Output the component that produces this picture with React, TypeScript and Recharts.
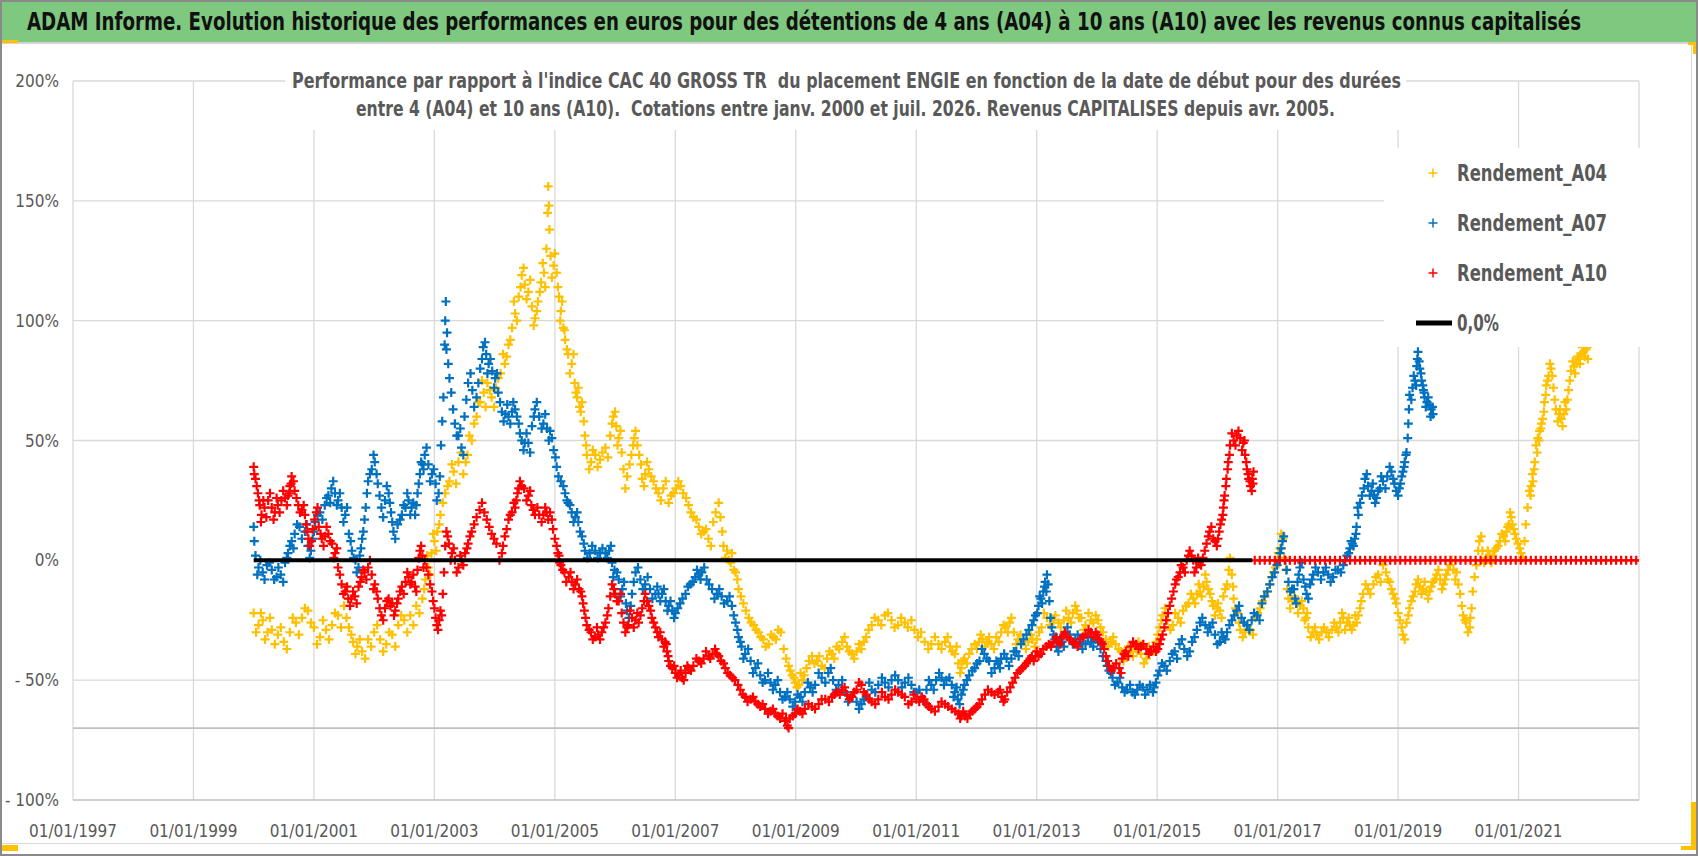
import React from 'react';
import { ScatterChart, Scatter, XAxis, YAxis, CartesianGrid, ReferenceLine, Legend } from 'recharts';

const FONT = '"Liberation Sans Narrow", "DejaVu Sans Condensed", "Open Sans", sans-serif';
const GREY_TEXT = '#595959';

const TITLE = 'ADAM Informe. Evolution historique des performances en euros pour des détentions de 4 ans (A04) à 10 ans (A10) avec les revenus connus capitalisés';
const SUBTITLE_1 = "Performance par rapport à l'indice CAC 40 GROSS TR  du placement ENGIE en fonction de la date de début pour des durées";
const SUBTITLE_2 = 'entre 4 (A04) et 10 ans (A10).  Cotations entre janv. 2000 et juil. 2026. Revenus CAPITALISES depuis avr. 2005.';
const TITLE_SCALE = 0.77;

const X_TICKS = [1997, 1999, 2001, 2003, 2005, 2007, 2009, 2011, 2013, 2015, 2017, 2019, 2021];
const Y_TICKS = [-100, -50, 0, 50, 100, 150, 200];
const Y_GRID = [200, 150, 100, 50, -50];
const Y_MIN_LINE = -70;

// [date en années, performance en %] - tracé principal de chaque nuage
const A04: [number, number][] = [
  [2000.0,-22],[2000.08,-27],[2000.15,-25],[2000.23,-30],[2000.3,-29],[2000.4,-31],[2000.5,-34],[2000.6,-30],[2000.7,-26],[2000.8,-24],
  [2000.9,-21],[2001.0,-28],[2001.1,-32],[2001.2,-29],[2001.3,-27],[2001.4,-23],[2001.5,-19],[2001.58,-28],[2001.65,-34],[2001.72,-36],
  [2001.8,-38],[2001.9,-33],[2002.0,-30],[2002.1,-33],[2002.2,-35],[2002.3,-31],[2002.4,-27],[2002.5,-25],[2002.6,-23],[2002.7,-19],
  [2002.8,-16],[2002.85,-8],[2002.9,-3],[2002.95,3],[2003.0,8],[2003.05,12],[2003.1,19],[2003.18,28],[2003.25,33],[2003.32,37],
  [2003.4,41],[2003.48,36],[2003.55,44],[2003.62,50],[2003.7,60],[2003.76,66],[2003.82,70],[2003.88,74],[2003.95,68],[2004.02,72],
  [2004.1,78],[2004.17,82],[2004.23,90],[2004.29,97],[2004.34,103],[2004.4,110],[2004.45,119],[2004.5,115],[2004.56,112],[2004.62,106],
  [2004.67,101],[2004.72,108],[2004.77,116],[2004.82,120],[2004.86,130],[2004.88,145],[2004.89,156],[2004.91,138],[2004.93,127],[2004.98,123],
  [2005.03,120],[2005.07,110],[2005.1,104],[2005.14,97],[2005.17,92],[2005.22,86],[2005.28,82],[2005.33,74],[2005.37,68],[2005.41,64],
  [2005.45,66],[2005.5,52],[2005.53,44],[2005.6,41],[2005.67,44],[2005.75,42],[2005.84,47],[2005.92,52],[2005.97,60],[2006.02,56],
  [2006.06,51],[2006.11,45],[2006.17,30],[2006.24,40],[2006.3,48],[2006.34,54],[2006.4,44],[2006.45,34],[2006.5,36],[2006.56,38],
  [2006.64,33],[2006.72,28],[2006.8,30],[2006.89,24],[2006.97,28],[2007.05,33],[2007.13,28],[2007.22,23],[2007.3,18],[2007.39,14],
  [2007.47,12],[2007.55,9],[2007.63,16],[2007.72,24],[2007.78,12],[2007.83,1],[2007.89,0],[2007.94,3],[2008.0,-5],[2008.05,-12],
  [2008.13,-18],[2008.22,-24],[2008.3,-27],[2008.38,-30],[2008.46,-33],[2008.55,-35],[2008.63,-32],[2008.71,-29],[2008.8,-37],[2008.88,-44],
  [2008.94,-48],[2008.99,-51],[2009.05,-52],[2009.1,-50],[2009.18,-45],[2009.27,-40],[2009.35,-42],[2009.43,-44],[2009.52,-41],[2009.6,-39],
  [2009.68,-36],[2009.77,-34],[2009.85,-36],[2009.93,-39],[2010.01,-38],[2010.09,-37],[2010.17,-32],[2010.26,-27],[2010.37,-25],[2010.48,-23],
  [2010.59,-25],[2010.7,-27],[2010.81,-26],[2010.92,-25],[2011.03,-32],[2011.14,-34],[2011.25,-35],[2011.37,-35],[2011.48,-34],[2011.56,-36],
  [2011.64,-39],[2011.7,-43],[2011.75,-45],[2011.8,-41],[2011.88,-39],[2011.97,-35],[2012.04,-34],[2012.1,-33],[2012.18,-34],[2012.25,-35],
  [2012.33,-32],[2012.41,-30],[2012.48,-28],[2012.55,-26],[2012.62,-30],[2012.69,-33],[2012.78,-34],[2012.86,-34],[2012.93,-33],[2013.0,-33],
  [2013.08,-28],[2013.17,-24],[2013.27,-25],[2013.36,-26],[2013.45,-25],[2013.53,-24],[2013.6,-22],[2013.67,-21],[2013.74,-24],[2013.81,-27],
  [2013.9,-25],[2013.98,-23],[2014.06,-28],[2014.15,-33],[2014.23,-34],[2014.31,-35],[2014.4,-38],[2014.48,-40],[2014.56,-38],[2014.65,-37],
  [2014.73,-39],[2014.82,-41],[2014.9,-38],[2014.98,-34],[2015.04,-28],[2015.09,-23],[2015.17,-25],[2015.26,-27],[2015.35,-24],[2015.43,-21],
  [2015.52,-18],[2015.6,-16],[2015.66,-14],[2015.71,-13],[2015.77,-11],[2015.82,-9],[2015.88,-14],[2015.93,-19],[2015.99,-20],[2016.04,-21],
  [2016.1,-15],[2016.16,-10],[2016.21,1],[2016.24,-6],[2016.27,-16],[2016.33,-22],[2016.38,-29],[2016.46,-30],[2016.55,-29],[2016.63,-24],
  [2016.71,-20],[2016.79,-15],[2016.87,-10],[2016.93,-5],[2016.98,0],[2017.04,5],[2017.09,9],[2017.14,-4],[2017.18,-16],[2017.25,-17],
  [2017.31,-18],[2017.37,-19],[2017.43,-20],[2017.47,-24],[2017.51,-28],[2017.58,-30],[2017.65,-31],[2017.73,-30],[2017.81,-30],[2017.9,-29],
  [2017.98,-28],[2018.04,-26],[2018.09,-24],[2018.15,-26],[2018.2,-27],[2018.26,-27],[2018.31,-26],[2018.37,-20],[2018.42,-14],[2018.5,-12],
  [2018.59,-10],[2018.67,-6],[2018.75,-2],[2018.8,-5],[2018.86,-9],[2018.92,-14],[2018.97,-18],[2019.03,-25],[2019.08,-31],[2019.14,-26],
  [2019.19,-20],[2019.25,-15],[2019.3,-10],[2019.36,-11],[2019.41,-12],[2019.47,-13],[2019.52,-13],[2019.58,-9],[2019.64,-6],[2019.7,-8],
  [2019.75,-10],[2019.8,-6],[2019.86,-2],[2019.92,-4],[2019.97,-5],[2020.03,-14],[2020.08,-23],[2020.13,-26],[2020.19,-28],[2020.22,-20],
  [2020.24,-13],[2020.3,-2],[2020.35,8],[2020.4,4],[2020.46,1],[2020.52,2],[2020.57,2],[2020.63,5],[2020.69,8],[2020.75,10],
  [2020.8,12],[2020.84,15],[2020.88,18],[2020.92,13],[2020.96,9],[2021.02,5],[2021.07,1],[2021.12,15],[2021.18,29],[2021.21,31],
  [2021.24,33],[2021.27,41],[2021.29,48],[2021.32,51],[2021.35,54],[2021.38,57],[2021.4,59],[2021.43,66],[2021.46,73],[2021.5,77],
  [2021.54,80],[2021.58,72],[2021.62,63],[2021.67,61],[2021.71,59],[2021.75,61],[2021.79,63],[2021.83,71],[2021.87,79],[2021.92,81],
  [2021.96,82],[2022.0,84],[2022.04,86],[2022.08,87],[2022.12,88],[2022.15,84],
];

// bord opposé du nuage A04 (dispersion des cotations journalières)
const A04_B: [number, number][] = [
  [2000.04,-30],[2000.12,-22],[2000.19,-33],[2000.27,-24],[2000.35,-35],[2000.45,-28],[2000.55,-37],[2000.65,-24],[2000.75,-31],[2000.85,-20],
  [2000.95,-26],[2001.05,-35],[2001.15,-25],[2001.25,-33],[2001.35,-22],[2001.45,-28],[2001.54,-24],[2001.62,-31],[2001.69,-39],[2001.76,-33],
  [2001.85,-41],[2001.95,-36],[2002.05,-27],[2002.15,-38],[2002.25,-30],[2002.35,-36],[2002.45,-23],[2002.55,-30],[2002.65,-27],[2002.75,-22],
  [2002.83,-12],[2002.88,2],[2002.93,-6],[2002.98,11],[2003.03,4],[2003.08,15],[2003.14,24],[2003.22,31],[2003.29,40],[2003.36,32],
  [2003.44,45],[2003.52,41],[2003.58,52],[2003.66,57],[2003.73,66],[2003.79,75],[2003.85,64],[2003.92,71],[2003.99,64],[2004.06,76],
  [2004.14,86],[2004.2,85],[2004.26,92],[2004.32,108],[2004.37,100],[2004.43,114],[2004.48,122],[2004.53,109],[2004.59,117],[2004.65,98],
  [2004.7,104],[2004.75,112],[2004.8,124],[2004.84,114],[2004.9,148],[2004.95,118],[2005.0,128],[2005.05,114],[2005.09,100],[2005.12,108],
  [2005.16,96],[2005.2,88],[2005.25,78],[2005.31,86],[2005.35,70],[2005.39,72],[2005.43,62],[2005.48,58],[2005.52,48],[2005.57,38],
  [2005.63,46],[2005.71,39],[2005.79,45],[2005.88,43],[2005.95,57],[2006.0,62],[2006.04,48],[2006.09,54],[2006.14,38],[2006.2,35],
  [2006.27,44],[2006.32,51],[2006.37,48],[2006.43,40],[2006.48,31],[2006.53,41],[2006.6,35],[2006.68,30],[2006.76,25],[2006.84,33],
  [2006.93,27],[2007.01,30],[2007.09,31],[2007.18,26],[2007.26,20],[2007.35,17],[2007.43,11],[2007.51,13],[2007.59,6],[2007.67,20],
  [2007.75,18],[2007.8,6],[2007.86,4],[2007.92,-1],[2007.97,-4],[2008.03,-8],[2008.09,-15],[2008.17,-21],[2008.26,-26],[2008.34,-29],
  [2008.42,-32],[2008.5,-36],[2008.59,-31],[2008.67,-33],[2008.75,-30],[2008.84,-41],[2008.91,-46],[2008.97,-49],[2009.02,-53],[2009.08,-47],
  [2009.14,-48],[2009.22,-42],[2009.31,-43],[2009.39,-40],[2009.48,-45],[2009.56,-38],[2009.64,-41],[2009.72,-37],[2009.81,-32],[2009.89,-38],
  [2009.97,-41],[2010.05,-35],[2010.13,-34],[2010.21,-29],[2010.31,-24],[2010.42,-27],[2010.53,-22],[2010.64,-28],[2010.75,-24],[2010.86,-28],
  [2010.97,-29],[2011.08,-30],[2011.2,-37],[2011.31,-32],[2011.42,-37],[2011.52,-32],[2011.6,-38],[2011.67,-36],[2011.73,-47],[2011.78,-42],
  [2011.84,-43],[2011.92,-37],[2012.01,-37],[2012.07,-31],[2012.14,-36],[2012.21,-32],[2012.29,-37],[2012.37,-34],[2012.45,-27],[2012.52,-30],
  [2012.58,-24],[2012.66,-35],[2012.73,-31],[2012.82,-37],[2012.9,-31],[2012.97,-36],[2013.04,-30],[2013.12,-22],[2013.22,-27],[2013.31,-23],
  [2013.4,-28],[2013.49,-21],[2013.57,-26],[2013.64,-19],[2013.7,-24],[2013.78,-29],[2013.86,-22],[2013.94,-26],[2014.02,-25],[2014.1,-30],
  [2014.19,-36],[2014.27,-32],[2014.36,-37],[2014.44,-42],[2014.52,-36],[2014.6,-40],[2014.69,-34],[2014.78,-43],[2014.86,-36],[2014.94,-38],
  [2015.01,-31],[2015.07,-25],[2015.13,-20],[2015.22,-29],[2015.3,-22],[2015.39,-26],[2015.48,-19],[2015.56,-14],[2015.63,-18],[2015.69,-10],
  [2015.74,-15],[2015.8,-6],[2015.85,-12],[2015.91,-17],[2015.96,-23],[2016.01,-18],[2016.07,-24],[2016.13,-12],[2016.19,-4],[2016.26,-11],
  [2016.3,-20],[2016.36,-26],[2016.42,-32],[2016.5,-27],[2016.59,-31],[2016.67,-22],[2016.75,-17],[2016.83,-13],[2016.9,-7],[2016.96,-3],
  [2017.01,3],[2017.06,11],[2017.11,1],[2017.16,-12],[2017.21,-20],[2017.28,-15],[2017.34,-22],[2017.4,-17],[2017.45,-25],[2017.49,-22],
  [2017.55,-32],[2017.62,-28],[2017.69,-33],[2017.77,-28],[2017.85,-32],[2017.94,-26],[2018.01,-30],[2018.07,-22],[2018.12,-29],[2018.18,-24],
  [2018.23,-29],[2018.29,-23],[2018.34,-23],[2018.39,-17],[2018.46,-10],[2018.54,-14],[2018.63,-7],[2018.71,-9],[2018.78,0],[2018.83,-8],
  [2018.89,-12],[2018.95,-16],[2019.0,-22],[2019.06,-28],[2019.11,-33],[2019.17,-23],[2019.22,-17],[2019.28,-13],[2019.33,-8],[2019.39,-14],
  [2019.44,-9],[2019.5,-16],[2019.55,-11],[2019.61,-8],[2019.67,-4],[2019.73,-12],[2019.78,-8],[2019.83,-4],[2019.89,0],[2019.95,-8],
  [2020.0,-10],[2020.06,-19],[2020.11,-25],[2020.16,-30],[2020.2,-24],[2020.27,-7],[2020.33,4],[2020.38,10],[2020.43,-1],[2020.49,4],
  [2020.55,-1],[2020.6,4],[2020.66,6],[2020.72,11],[2020.78,8],[2020.82,14],[2020.86,20],[2020.9,15],[2020.94,11],[2020.99,7],
  [2021.04,3],[2021.1,8],[2021.15,22],[2021.2,27],[2021.23,36],[2021.26,38],[2021.31,45],[2021.34,50],[2021.37,55],[2021.42,62],
  [2021.45,69],[2021.48,75],[2021.52,82],[2021.56,77],[2021.6,67],[2021.65,58],[2021.69,63],[2021.73,56],[2021.77,66],[2021.81,67],
  [2021.85,75],[2021.9,83],[2021.94,78],[2021.98,85],[2022.02,82],[2022.06,89],[2022.1,85],[2022.14,89],
];

const A07: [number, number][] = [
  [2000.0,14],[2000.03,2],[2000.08,-3],[2000.15,-5],[2000.22,-2],[2000.3,-4],[2000.38,-7],[2000.45,-6],[2000.52,-1],[2000.57,3],
  [2000.63,8],[2000.68,11],[2000.76,14],[2000.85,12],[2000.9,6],[2000.93,1],[2000.98,9],[2001.02,16],[2001.1,20],[2001.18,23],
  [2001.24,27],[2001.29,30],[2001.35,28],[2001.4,25],[2001.46,22],[2001.52,19],[2001.58,11],[2001.63,4],[2001.69,0],[2001.74,-3],
  [2001.78,5],[2001.82,12],[2001.86,22],[2001.9,33],[2001.96,38],[2002.01,41],[2002.06,32],[2002.12,22],[2002.18,25],[2002.24,28],
  [2002.28,20],[2002.32,12],[2002.39,15],[2002.46,19],[2002.52,22],[2002.57,25],[2002.62,22],[2002.68,19],[2002.72,28],[2002.76,36],
  [2002.8,40],[2002.84,44],[2002.9,40],[2002.96,36],[2003.02,32],[2003.07,28],[2003.11,48],[2003.15,68],[2003.17,90],[2003.19,108],
  [2003.21,95],[2003.23,82],[2003.28,70],[2003.34,57],[2003.4,52],[2003.45,47],[2003.5,60],[2003.56,74],[2003.63,71],[2003.7,68],
  [2003.76,80],[2003.81,89],[2003.86,86],[2003.9,82],[2003.96,79],[2004.01,76],[2004.06,70],[2004.12,62],[2004.18,61],[2004.23,60],
  [2004.29,62],[2004.34,63],[2004.4,57],[2004.45,50],[2004.5,49],[2004.56,49],[2004.62,56],[2004.67,63],[2004.74,60],[2004.81,57],
  [2004.87,55],[2004.92,54],[2004.98,46],[2005.03,39],[2005.1,33],[2005.17,28],[2005.22,24],[2005.28,20],[2005.34,18],[2005.39,16],
  [2005.45,10],[2005.5,4],[2005.58,3],[2005.67,4],[2005.75,3],[2005.84,3],[2005.9,4],[2005.95,-1],[2005.99,-4],[2006.06,-8],
  [2006.12,-12],[2006.18,-18],[2006.23,-24],[2006.28,-14],[2006.34,-5],[2006.42,-8],[2006.5,-10],[2006.58,-12],[2006.67,-14],[2006.72,-14],
  [2006.78,-14],[2006.84,-17],[2006.89,-19],[2006.95,-21],[2007.0,-22],[2007.08,-18],[2007.17,-14],[2007.25,-10],[2007.33,-7],[2007.39,-6],
  [2007.44,-5],[2007.52,-8],[2007.61,-12],[2007.69,-14],[2007.77,-15],[2007.86,-17],[2007.94,-19],[2008.0,-26],[2008.05,-32],[2008.1,-36],
  [2008.16,-39],[2008.25,-42],[2008.33,-45],[2008.41,-48],[2008.49,-50],[2008.58,-51],[2008.66,-52],[2008.74,-55],[2008.82,-57],[2008.9,-58],
  [2008.99,-59],[2009.07,-57],[2009.15,-55],[2009.24,-53],[2009.32,-52],[2009.43,-49],[2009.54,-47],[2009.62,-50],[2009.71,-52],[2009.82,-55],
  [2009.93,-57],[2010.01,-59],[2010.09,-60],[2010.17,-57],[2010.26,-54],[2010.37,-52],[2010.48,-51],[2010.59,-50],[2010.7,-50],[2010.81,-51],
  [2010.92,-52],[2011.0,-55],[2011.09,-57],[2011.17,-54],[2011.25,-52],[2011.33,-50],[2011.42,-49],[2011.5,-50],[2011.59,-52],[2011.64,-55],
  [2011.69,-58],[2011.75,-56],[2011.8,-52],[2011.88,-48],[2011.97,-45],[2012.05,-42],[2012.13,-39],[2012.21,-42],[2012.3,-45],[2012.36,-43],
  [2012.41,-41],[2012.5,-41],[2012.58,-41],[2012.66,-38],[2012.74,-35],[2012.83,-31],[2012.92,-27],[2012.98,-23],[2013.03,-19],[2013.07,-16],
  [2013.11,-13],[2013.14,-9],[2013.17,-6],[2013.21,-17],[2013.25,-28],[2013.3,-33],[2013.36,-38],[2013.42,-34],[2013.47,-30],[2013.55,-31],
  [2013.64,-33],[2013.72,-34],[2013.81,-35],[2013.9,-34],[2013.98,-33],[2014.06,-37],[2014.15,-42],[2014.2,-46],[2014.26,-49],[2014.34,-51],
  [2014.42,-53],[2014.5,-54],[2014.59,-55],[2014.67,-54],[2014.76,-53],[2014.84,-54],[2014.93,-55],[2014.98,-51],[2015.04,-46],[2015.12,-44],
  [2015.21,-42],[2015.29,-38],[2015.37,-35],[2015.45,-37],[2015.54,-38],[2015.62,-32],[2015.71,-26],[2015.8,-27],[2015.88,-28],[2015.96,-31],
  [2016.04,-34],[2016.1,-32],[2016.16,-30],[2016.24,-25],[2016.32,-21],[2016.4,-24],[2016.49,-27],[2016.57,-25],[2016.66,-23],[2016.74,-18],
  [2016.83,-13],[2016.91,-7],[2016.99,-2],[2017.04,3],[2017.08,8],[2017.13,0],[2017.18,-9],[2017.24,-12],[2017.29,-16],[2017.33,-9],
  [2017.37,-3],[2017.43,-8],[2017.48,-14],[2017.54,-10],[2017.59,-6],[2017.67,-5],[2017.76,-5],[2017.84,-6],[2017.92,-7],[2018.0,-4],
  [2018.09,-2],[2018.15,2],[2018.2,5],[2018.24,7],[2018.28,9],[2018.31,14],[2018.34,19],[2018.4,27],[2018.45,34],[2018.5,31],
  [2018.56,29],[2018.6,27],[2018.64,26],[2018.7,30],[2018.75,33],[2018.82,35],[2018.89,37],[2018.94,32],[2019.0,27],[2019.04,32],
  [2019.08,37],[2019.11,41],[2019.14,45],[2019.17,57],[2019.19,69],[2019.24,72],[2019.28,75],[2019.31,81],[2019.33,87],[2019.36,80],
  [2019.39,75],[2019.42,71],[2019.44,68],[2019.48,66],[2019.52,65],[2019.55,63],[2019.58,61],
];

const A07_B: [number, number][] = [
  [2000.01,8],[2000.06,-6],[2000.11,0],[2000.18,-8],[2000.26,-1],[2000.34,-8],[2000.41,-3],[2000.49,-9],[2000.55,1],[2000.6,6],
  [2000.66,5],[2000.72,15],[2000.8,9],[2000.88,15],[2000.95,4],[2001.0,12],[2001.06,19],[2001.14,17],[2001.21,26],[2001.27,24],
  [2001.32,33],[2001.38,23],[2001.43,28],[2001.49,16],[2001.55,22],[2001.61,8],[2001.66,1],[2001.71,-5],[2001.76,2],[2001.8,9],
  [2001.84,17],[2001.88,28],[2001.93,36],[2001.99,44],[2002.04,36],[2002.09,27],[2002.15,18],[2002.21,31],[2002.26,24],[2002.3,16],
  [2002.35,9],[2002.43,17],[2002.49,23],[2002.55,28],[2002.6,19],[2002.65,24],[2002.7,23],[2002.74,32],[2002.78,41],[2002.82,38],
  [2002.87,47],[2002.93,33],[2002.99,38],[2003.04,25],[2003.09,35],[2003.13,58],[2003.18,100],[2003.2,88],[2003.25,76],[2003.31,63],
  [2003.37,52],[2003.43,55],[2003.48,44],[2003.53,67],[2003.6,78],[2003.66,64],[2003.73,74],[2003.79,84],[2003.84,91],[2003.88,78],
  [2003.93,84],[2003.99,72],[2004.04,78],[2004.09,66],[2004.15,58],[2004.21,65],[2004.26,57],[2004.31,66],[2004.37,60],[2004.42,53],
  [2004.48,46],[2004.53,53],[2004.59,45],[2004.65,60],[2004.7,66],[2004.78,55],[2004.84,61],[2004.9,50],[2004.95,51],[2005.01,43],
  [2005.06,35],[2005.14,31],[2005.2,25],[2005.25,23],[2005.31,16],[2005.37,20],[2005.42,12],[2005.48,7],[2005.54,1],[2005.62,6],
  [2005.71,1],[2005.79,5],[2005.87,1],[2005.93,6],[2005.97,-7],[2006.03,-5],[2006.09,-15],[2006.15,-9],[2006.2,-21],[2006.26,-19],
  [2006.31,-9],[2006.38,-3],[2006.46,-12],[2006.54,-7],[2006.62,-16],[2006.7,-11],[2006.75,-17],[2006.81,-12],[2006.87,-21],[2006.92,-17],
  [2006.98,-24],[2007.04,-20],[2007.12,-16],[2007.21,-11],[2007.29,-9],[2007.36,-4],[2007.42,-8],[2007.48,-3],[2007.56,-10],[2007.65,-16],
  [2007.73,-12],[2007.81,-18],[2007.9,-15],[2007.97,-23],[2008.03,-29],[2008.08,-34],[2008.13,-41],[2008.21,-37],[2008.29,-47],[2008.37,-43],
  [2008.45,-51],[2008.54,-47],[2008.62,-54],[2008.7,-50],[2008.78,-58],[2008.86,-55],[2008.95,-61],[2009.03,-56],[2009.11,-59],[2009.2,-51],
  [2009.28,-55],[2009.38,-47],[2009.49,-51],[2009.58,-45],[2009.67,-54],[2009.77,-50],[2009.87,-59],[2009.97,-55],[2010.05,-62],[2010.13,-58],
  [2010.22,-51],[2010.32,-55],[2010.43,-49],[2010.54,-53],[2010.65,-48],[2010.76,-53],[2010.87,-49],[2010.96,-55],[2011.05,-54],[2011.13,-59],
  [2011.21,-50],[2011.29,-54],[2011.38,-47],[2011.46,-52],[2011.55,-49],[2011.62,-57],[2011.67,-53],[2011.72,-60],[2011.78,-54],[2011.84,-50],
  [2011.93,-46],[2012.01,-43],[2012.09,-37],[2012.17,-41],[2012.25,-47],[2012.33,-42],[2012.39,-45],[2012.46,-39],[2012.54,-44],[2012.62,-38],
  [2012.7,-40],[2012.78,-33],[2012.87,-29],[2012.95,-25],[2013.01,-22],[2013.05,-15],[2013.09,-18],[2013.13,-11],[2013.16,-13],[2013.19,-10],
  [2013.23,-24],[2013.28,-31],[2013.33,-36],[2013.39,-33],[2013.45,-36],[2013.51,-28],[2013.6,-35],[2013.68,-31],[2013.76,-37],[2013.85,-32],
  [2013.94,-36],[2014.02,-34],[2014.1,-40],[2014.17,-44],[2014.23,-47],[2014.3,-52],[2014.38,-49],[2014.46,-55],[2014.55,-52],[2014.63,-56],
  [2014.71,-52],[2014.8,-56],[2014.88,-52],[2014.95,-53],[2015.01,-48],[2015.08,-43],[2015.16,-46],[2015.25,-39],[2015.33,-41],[2015.41,-33],
  [2015.5,-40],[2015.58,-34],[2015.66,-29],[2015.75,-24],[2015.84,-30],[2015.92,-26],[2016.0,-35],[2016.07,-30],[2016.13,-33],[2016.2,-27],
  [2016.28,-23],[2016.36,-19],[2016.44,-26],[2016.53,-29],[2016.61,-22],[2016.7,-25],[2016.78,-15],[2016.87,-10],[2016.95,-5],[2017.02,0],
  [2017.06,5],[2017.1,10],[2017.15,-4],[2017.21,-13],[2017.27,-12],[2017.31,-18],[2017.35,-6],[2017.4,-1],[2017.46,-11],[2017.51,-16],
  [2017.57,-8],[2017.63,-3],[2017.72,-8],[2017.8,-3],[2017.88,-9],[2017.96,-4],[2018.05,-5],[2018.12,0],[2018.18,3],[2018.22,8],
  [2018.26,6],[2018.3,11],[2018.33,22],[2018.37,24],[2018.43,30],[2018.48,36],[2018.53,27],[2018.58,32],[2018.62,24],[2018.67,29],
  [2018.72,35],[2018.79,30],[2018.86,39],[2018.92,34],[2018.97,29],[2019.02,30],[2019.06,35],[2019.1,39],[2019.13,44],[2019.16,51],
  [2019.18,63],[2019.22,67],[2019.26,77],[2019.3,73],[2019.32,84],[2019.35,83],[2019.38,78],[2019.41,73],[2019.43,70],[2019.46,64],
  [2019.5,68],[2019.54,60],[2019.57,64],
];

const A10: [number, number][] = [
  [2000.0,39],[2000.03,34],[2000.07,28],[2000.1,23],[2000.13,19],[2000.18,22],[2000.24,25],[2000.3,22],[2000.35,20],[2000.4,23],
  [2000.46,25],[2000.52,26],[2000.57,27],[2000.6,31],[2000.63,35],[2000.68,29],[2000.74,23],[2000.8,21],[2000.85,19],[2000.89,12],
  [2000.93,6],[2000.98,13],[2001.04,20],[2001.08,14],[2001.13,9],[2001.18,10],[2001.24,11],[2001.3,7],[2001.35,3],[2001.4,-3],
  [2001.46,-10],[2001.52,-13],[2001.57,-16],[2001.62,-16],[2001.68,-15],[2001.74,-11],[2001.79,-7],[2001.84,-5],[2001.9,-3],[2001.96,-6],
  [2002.01,-10],[2002.06,-16],[2002.12,-23],[2002.18,-20],[2002.24,-16],[2002.3,-18],[2002.35,-21],[2002.4,-16],[2002.46,-11],[2002.52,-9],
  [2002.57,-7],[2002.62,-9],[2002.68,-11],[2002.72,-4],[2002.76,4],[2002.8,2],[2002.84,0],[2002.9,-6],[2002.96,-13],[2003.0,-20],
  [2003.04,-27],[2003.08,-25],[2003.12,-23],[2003.16,-5],[2003.2,12],[2003.24,7],[2003.29,3],[2003.34,0],[2003.4,-3],[2003.45,0],
  [2003.51,3],[2003.56,7],[2003.62,12],[2003.7,18],[2003.79,24],[2003.87,17],[2003.95,11],[2004.03,7],[2004.12,3],[2004.17,10],
  [2004.23,17],[2004.29,20],[2004.34,22],[2004.38,28],[2004.42,33],[2004.49,30],[2004.56,27],[2004.61,23],[2004.67,19],[2004.74,19],
  [2004.81,19],[2004.86,20],[2004.92,20],[2004.97,13],[2005.03,6],[2005.07,2],[2005.1,-2],[2005.16,-5],[2005.23,-7],[2005.28,-9],
  [2005.34,-10],[2005.4,-12],[2005.45,-15],[2005.49,-21],[2005.53,-27],[2005.6,-30],[2005.67,-32],[2005.72,-31],[2005.78,-30],[2005.84,-26],
  [2005.89,-20],[2005.95,-10],[2006.0,-14],[2006.06,-17],[2006.11,-22],[2006.17,-30],[2006.22,-27],[2006.28,-24],[2006.34,-25],[2006.39,-26],
  [2006.45,-20],[2006.5,-14],[2006.56,-19],[2006.61,-24],[2006.67,-28],[2006.72,-32],[2006.78,-33],[2006.83,-34],[2006.86,-38],[2006.89,-42],
  [2006.95,-45],[2007.0,-47],[2007.06,-48],[2007.11,-49],[2007.17,-47],[2007.22,-45],[2007.3,-44],[2007.39,-42],[2007.47,-41],[2007.55,-40],
  [2007.62,-39],[2007.69,-39],[2007.76,-42],[2007.83,-45],[2007.91,-48],[2007.99,-50],[2008.08,-54],[2008.16,-57],[2008.25,-58],[2008.33,-59],
  [2008.41,-61],[2008.49,-62],[2008.58,-63],[2008.66,-64],[2008.74,-66],[2008.82,-67],[2008.86,-69],[2008.9,-66],[2008.99,-64],[2009.07,-63],
  [2009.15,-62],[2009.27,-61],[2009.38,-60],[2009.49,-58],[2009.6,-57],[2009.68,-55],[2009.77,-54],[2009.85,-56],[2009.93,-57],[2010.01,-54],
  [2010.09,-52],[2010.17,-56],[2010.26,-59],[2010.37,-58],[2010.48,-57],[2010.59,-56],[2010.7,-55],[2010.81,-57],[2010.92,-59],[2011.0,-58],
  [2011.09,-57],[2011.17,-60],[2011.25,-62],[2011.37,-61],[2011.48,-60],[2011.59,-62],[2011.7,-64],[2011.75,-65],[2011.81,-65],[2011.89,-64],
  [2011.97,-62],[2012.05,-60],[2012.14,-56],[2012.25,-55],[2012.36,-55],[2012.42,-57],[2012.47,-58],[2012.56,-53],[2012.64,-49],[2012.72,-46],
  [2012.8,-44],[2012.86,-42],[2012.92,-40],[2012.98,-40],[2013.03,-40],[2013.11,-37],[2013.2,-35],[2013.28,-34],[2013.36,-34],[2013.42,-32],
  [2013.47,-30],[2013.55,-33],[2013.64,-35],[2013.72,-33],[2013.81,-31],[2013.9,-30],[2013.98,-30],[2014.04,-33],[2014.09,-35],[2014.15,-40],
  [2014.2,-44],[2014.28,-45],[2014.37,-45],[2014.42,-41],[2014.48,-38],[2014.56,-36],[2014.65,-35],[2014.73,-36],[2014.82,-37],[2014.9,-38],
  [2014.98,-38],[2015.04,-35],[2015.09,-31],[2015.15,-25],[2015.21,-19],[2015.27,-13],[2015.32,-8],[2015.38,-5],[2015.43,-3],[2015.49,0],
  [2015.54,4],[2015.6,0],[2015.65,-3],[2015.7,-1],[2015.76,1],[2015.82,7],[2015.87,12],[2015.93,9],[2015.99,6],[2016.03,12],
  [2016.07,17],[2016.1,22],[2016.12,27],[2016.15,34],[2016.18,41],[2016.21,48],[2016.27,50],[2016.32,52],[2016.38,51],[2016.43,49],
  [2016.46,44],[2016.49,38],[2016.52,34],[2016.55,31],[2016.58,34],[2016.6,37],
];

const A10_B: [number, number][] = [
  [2000.01,36],[2000.05,31],[2000.09,25],[2000.12,16],[2000.16,25],[2000.21,18],[2000.27,28],[2000.33,17],[2000.38,26],[2000.43,20],
  [2000.49,29],[2000.55,23],[2000.59,28],[2000.62,32],[2000.66,33],[2000.71,26],[2000.77,20],[2000.83,23],[2000.87,15],[2000.91,9],
  [2000.96,8],[2001.01,17],[2001.06,22],[2001.11,11],[2001.16,6],[2001.21,14],[2001.27,8],[2001.33,1],[2001.38,5],[2001.43,-6],
  [2001.49,-14],[2001.55,-11],[2001.6,-19],[2001.65,-13],[2001.71,-18],[2001.77,-9],[2001.82,-4],[2001.87,-8],[2001.93,0],[2001.99,-12],
  [2002.04,-13],[2002.09,-20],[2002.15,-25],[2002.21,-17],[2002.27,-19],[2002.33,-23],[2002.38,-18],[2002.43,-13],[2002.49,-14],[2002.55,-5],
  [2002.6,-10],[2002.65,-6],[2002.7,-13],[2002.74,1],[2002.78,6],[2002.82,-3],[2002.87,-3],[2002.93,-10],[2002.98,-17],[2003.02,-24],
  [2003.06,-29],[2003.1,-21],[2003.14,-14],[2003.18,6],[2003.22,10],[2003.27,0],[2003.32,5],[2003.37,-5],[2003.43,2],[2003.48,-2],
  [2003.54,5],[2003.59,10],[2003.66,15],[2003.75,21],[2003.83,20],[2003.91,14],[2003.99,9],[2004.08,0],[2004.14,6],[2004.2,13],
  [2004.26,19],[2004.32,24],[2004.36,25],[2004.4,30],[2004.45,31],[2004.53,25],[2004.59,29],[2004.64,21],[2004.71,22],[2004.78,16],
  [2004.84,22],[2004.89,17],[2004.95,17],[2005.0,9],[2005.05,3],[2005.08,-1],[2005.13,-4],[2005.19,-9],[2005.26,-5],[2005.31,-12],
  [2005.37,-8],[2005.43,-13],[2005.47,-18],[2005.51,-24],[2005.57,-29],[2005.63,-33],[2005.7,-28],[2005.75,-33],[2005.81,-28],[2005.87,-23],
  [2005.92,-15],[2005.98,-12],[2006.03,-17],[2006.09,-14],[2006.14,-26],[2006.2,-28],[2006.25,-21],[2006.31,-28],[2006.37,-22],[2006.42,-23],
  [2006.48,-17],[2006.53,-17],[2006.59,-21],[2006.64,-26],[2006.7,-30],[2006.75,-30],[2006.81,-36],[2006.85,-35],[2006.88,-40],[2006.92,-44],
  [2006.98,-44],[2007.03,-49],[2007.09,-46],[2007.14,-50],[2007.2,-44],[2007.26,-46],[2007.35,-41],[2007.43,-43],[2007.51,-38],[2007.58,-41],
  [2007.66,-37],[2007.72,-40],[2007.8,-43],[2007.87,-47],[2007.95,-49],[2008.04,-52],[2008.12,-56],[2008.2,-59],[2008.29,-57],[2008.37,-60],
  [2008.45,-60],[2008.54,-64],[2008.62,-62],[2008.7,-65],[2008.78,-64],[2008.84,-66],[2008.88,-70],[2008.95,-65],[2009.03,-62],[2009.11,-64],
  [2009.21,-60],[2009.32,-62],[2009.43,-58],[2009.55,-59],[2009.64,-56],[2009.73,-56],[2009.81,-53],[2009.89,-58],[2009.97,-55],[2010.05,-51],
  [2010.13,-55],[2010.22,-58],[2010.32,-60],[2010.43,-55],[2010.54,-58],[2010.65,-54],[2010.76,-56],[2010.87,-60],[2010.96,-56],[2011.05,-59],
  [2011.13,-58],[2011.21,-61],[2011.31,-63],[2011.42,-59],[2011.53,-61],[2011.65,-63],[2011.73,-66],[2011.78,-63],[2011.85,-66],[2011.93,-63],
  [2012.01,-61],[2012.09,-58],[2012.19,-54],[2012.3,-56],[2012.39,-54],[2012.45,-59],[2012.51,-55],[2012.6,-51],[2012.68,-47],[2012.76,-45],
  [2012.83,-43],[2012.89,-41],[2012.95,-42],[2013.0,-38],[2013.07,-39],[2013.16,-36],[2013.24,-36],[2013.32,-32],[2013.39,-35],[2013.45,-31],
  [2013.51,-32],[2013.6,-34],[2013.68,-36],[2013.77,-32],[2013.86,-29],[2013.94,-32],[2014.01,-31],[2014.07,-34],[2014.12,-37],[2014.18,-42],
  [2014.24,-46],[2014.32,-43],[2014.4,-47],[2014.45,-39],[2014.52,-40],[2014.6,-34],[2014.69,-37],[2014.77,-35],[2014.86,-39],[2014.94,-36],
  [2015.01,-37],[2015.06,-33],[2015.12,-28],[2015.18,-22],[2015.24,-16],[2015.3,-10],[2015.35,-7],[2015.4,-2],[2015.46,-5],[2015.52,2],
  [2015.57,2],[2015.62,-5],[2015.68,1],[2015.73,-2],[2015.79,4],[2015.85,10],[2015.9,14],[2015.96,8],[2016.01,9],[2016.05,15],
  [2016.09,19],[2016.11,25],[2016.14,31],[2016.17,38],[2016.2,44],[2016.24,53],[2016.3,48],[2016.35,54],[2016.41,46],[2016.45,50],
  [2016.48,41],[2016.51,36],[2016.54,33],[2016.57,29],[2016.59,32],
];

// A10 : performances inconnues (0 %) à partir d'août 2016, un point par mois
const A10_TAIL_START = 2016.62;
const A10_TAIL = [
  0,0,0,0,0,0,0,0,0,0,0,0,0,0,0,0,0,0,0,0,0,0,0,0,0,0,
  0,0,0,0,0,0,0,0,0,0,0,0,0,0,0,0,0,0,0,0,0,0,0,0,0,0,
  0,0,0,0,0,0,0,0,0,0,0,0,0,0,0,0,0,0,0,0,0,0,0,0,0,0,
];

const ZERO_LINE: [number, number][] = [[2000.0, 0], [2016.58, 0]];

const toPoints = (rows: [number, number][]) => rows.map(([x, y]) => ({ x, y }));

const a04Data = toPoints([...A04, ...A04_B]);
const a07Data = toPoints([...A07, ...A07_B]);
const a10Data = [
  ...toPoints([...A10, ...A10_B]),
  ...A10_TAIL.map((y, i) => ({ x: A10_TAIL_START + i / 12, y })),
];
const zeroData = toPoints(ZERO_LINE);

const makeCross = (color: string) => (props: any) => {
  const { cx, cy } = props;
  if (cx == null || cy == null) return <g />;
  return (
    <path
      d={`M${cx - 4.5},${cy}H${cx + 4.5}M${cx},${cy - 4.5}V${cy + 4.5}`}
      stroke={color}
      strokeWidth={2.2}
      fill="none"
    />
  );
};

const formatPct = (v: number) => (v < 0 ? `- ${-v}%` : `${v}%`);
const formatDate = (v: number) => `01/01/${v}`;

const renderLegend = (props: any) => {
  const payload = [...(props.payload || [])];
  // les nuages d'abord, la ligne 0,0% en dernier
  payload.sort((a: any, b: any) => (a.type === 'line' ? 1 : 0) - (b.type === 'line' ? 1 : 0) || String(a.value).localeCompare(String(b.value)));
  return (
    <svg width={256} height={199} style={{ display: 'block', background: '#fff', overflow: 'visible' }}>
      {payload.map((entry: any, i: number) => {
        const cy = 25 + i * 50;
        const isLine = entry.type === 'line';
        return (
          <g key={entry.value}>
            {isLine ? (
              <line x1={32} x2={68} y1={cy} y2={cy} stroke="#000" strokeWidth={5} />
            ) : (
              <path d={`M44.5,${cy}H53.5M49,${cy - 4.5}V${cy + 4.5}`} stroke={entry.color} strokeWidth={1.5} />
            )}
            <text
              x={73}
              y={cy + 8}
              fill={GREY_TEXT}
              fontFamily={FONT}
              fontWeight="bold"
              fontSize={23}
              textLength={isLine ? 42 : 150}
              lengthAdjust="spacingAndGlyphs"
            >
              {entry.value}
            </text>
          </g>
        );
      })}
    </svg>
  );
};

const App: React.FC = () => {
  return (
    <div style={{ position: 'absolute', left: 0, top: 0, width: 1698, height: 856, background: '#fff', overflow: 'hidden' }}>
      <div style={{ position: 'absolute', left: 0, top: 0 }}>
        <ScatterChart width={1698} height={856} margin={{ top: 81, right: 59, bottom: 26, left: 13 }}>
          <CartesianGrid horizontal={false} stroke="#d9d9d9" strokeWidth={1.3} />
          {Y_GRID.map(v => (
            <ReferenceLine key={v} y={v} stroke="#d9d9d9" strokeWidth={1.3} />
          ))}
          <ReferenceLine y={Y_MIN_LINE} stroke="#bfbfbf" strokeWidth={1.6} />
          <XAxis
            type="number"
            dataKey="x"
            domain={[1997, 2023]}
            ticks={X_TICKS}
            tickFormatter={formatDate}
            allowDataOverflow
            tickLine={false}
            axisLine={{ stroke: '#bfbfbf', strokeWidth: 1.6 }}
            tickMargin={19}
            height={30}
            tick={{ fill: GREY_TEXT, fontSize: 17, fontFamily: FONT }}
          />
          <YAxis
            type="number"
            dataKey="y"
            domain={[-100, 200]}
            ticks={Y_TICKS}
            tickFormatter={formatPct}
            allowDataOverflow
            tickLine={false}
            axisLine={false}
            tickSize={0}
            tickMargin={14}
            width={60}
            tick={{ fill: GREY_TEXT, fontSize: 17, fontFamily: FONT }}
          />
          <Legend
            layout="vertical"
            align="center"
            verticalAlign="middle"
            content={renderLegend}
            wrapperStyle={{ left: 1384, top: 148, width: 256, height: 199, overflow: 'visible' }}
          />
          <Scatter name="Rendement_A04" data={a04Data} fill="#FFC000" shape={makeCross('#FFC000')} isAnimationActive={false} />
          <Scatter name="Rendement_A07" data={a07Data} fill="#0070C0" shape={makeCross('#0070C0')} isAnimationActive={false} />
          <Scatter name="Rendement_A10" data={a10Data} fill="#FF0000" shape={makeCross('#FF0000')} isAnimationActive={false} />
          <Scatter
            name="0,0%"
            data={zeroData}
            fill="#000"
            legendType="line"
            line={{ stroke: '#000', strokeWidth: 4 }}
            shape={() => <g />}
            isAnimationActive={false}
          />
        </ScatterChart>
      </div>

      {/* bandeau titre */}
      <div style={{ position: 'absolute', left: 2, top: 2, width: 1694, height: 40, background: '#7ec87f' }} />
      <div style={{ position: 'absolute', left: 2, top: 42, width: 1694, height: 2, background: '#d4d4d4' }} />
      <svg width={1698} height={140} style={{ position: 'absolute', left: 0, top: 0, pointerEvents: 'none' }}>
        <text
          transform={`translate(27,30) scale(${TITLE_SCALE},1)`}
          fontFamily={FONT}
          fontWeight="bold"
          fontSize={24}
          fill="#111"
          textLength={1554 / TITLE_SCALE}
          lengthAdjust="spacingAndGlyphs"
        >
          {TITLE}
        </text>
        <rect x={285} y={63} width={1121} height={67} fill="#fff" />
        <text x={292} y={88} fontFamily={FONT} fontWeight="bold" fontSize={21} fill={GREY_TEXT} textLength={1109} lengthAdjust="spacingAndGlyphs" style={{ whiteSpace: 'pre' }}>
          {SUBTITLE_1}
        </text>
        <text x={356} y={116} fontFamily={FONT} fontWeight="bold" fontSize={21} fill={GREY_TEXT} textLength={979} lengthAdjust="spacingAndGlyphs" style={{ whiteSpace: 'pre' }}>
          {SUBTITLE_2}
        </text>
      </svg>

      {/* cadre et poignées de sélection */}
      <div style={{ position: 'absolute', left: 2, top: 843, width: 1690, height: 1, background: '#d9d9d9' }} />
      <div style={{ position: 'absolute', left: 1691, top: 44, width: 1, height: 800, background: '#d9d9d9' }} />
      <div style={{ position: 'absolute', left: 0, top: 0, width: 1698, height: 856, boxSizing: 'border-box', border: '2px solid #8a8a8a', pointerEvents: 'none' }} />
      <div style={{ position: 'absolute', left: 2, top: 40, width: 16, height: 3, background: '#ffc000' }} />
      <div style={{ position: 'absolute', left: 1688, top: 42, width: 8, height: 3, background: '#ffc000' }} />
      <div style={{ position: 'absolute', left: 1693, top: 42, width: 3, height: 12, background: '#ffc000' }} />
      <div style={{ position: 'absolute', left: 2, top: 845, width: 16, height: 6, background: '#ffc000' }} />
      <div style={{ position: 'absolute', left: 1691, top: 802, width: 5, height: 48, background: '#ffc000' }} />
      <div style={{ position: 'absolute', left: 1681, top: 846, width: 15, height: 4, background: '#ffc000' }} />
    </div>
  );
};

export default App;
